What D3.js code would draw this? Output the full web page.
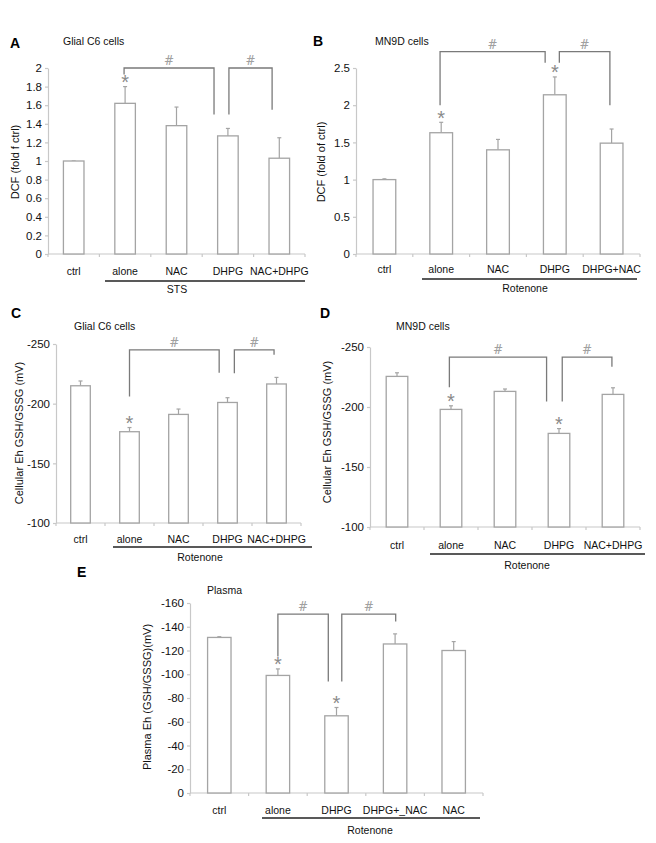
<!DOCTYPE html>
<html><head><meta charset="utf-8">
<script src="https://cdn.jsdelivr.net/npm/d3@7"></script>
<style>body{margin:0;background:#fff} svg{display:block}</style>
</head><body><svg id="c" width="656" height="843"></svg>
<script>
// ---------- Panel A ----------
const catsA = ["ctrl","alone","NAC","DHPG","NAC+DHPG"];
const valsA = [1.00,1.62,1.38,1.27,1.03];
const errA  = [0.00,0.18,0.20,0.08,0.22];
const sigA  = ["","*","","",""];
const ticksA = [0,0.2,0.4,0.6,0.8,1,1.2,1.4,1.6,1.8,2];
const bracketsA = [
  {from:"alone", to:"DHPG", top:2.0, fromEnd:1.93, toEnd:1.50},
  {from:"DHPG", to:"NAC+DHPG", top:2.0, fromEnd:1.50, toEnd:1.55}
];
// ---------- Panel B ----------
const catsB = ["ctrl","alone","NAC","DHPG","DHPG+NAC"];
const valsB = [1.00,1.63,1.40,2.14,1.49];
const errB  = [0.01,0.14,0.14,0.24,0.19];
const sigB  = ["","*","","*",""];
const ticksB = [0,0.5,1,1.5,2,2.5];
const bracketsB = [
  {from:"alone", to:"DHPG", top:2.72, fromEnd:2.0, toEnd:2.57},
  {from:"DHPG", to:"DHPG+NAC", top:2.72, fromEnd:2.57, toEnd:2.0}
];
// ---------- Panel C ----------
const catsC = ["ctrl","alone","NAC","DHPG","NAC+DHPG"];
const valsC = [-215,-176.5,-191,-201,-216.5];
const errC  = [4,3.5,4.5,4,5.5];
const sigC  = ["","*","","",""];
const ticksC = [-250,-200,-150,-100];
const bracketsC = [
  {from:"alone", to:"DHPG", top:-245, fromEnd:-206, toEnd:-226},
  {from:"DHPG", to:"NAC+DHPG", top:-245, fromEnd:-225.5, toEnd:-241}
];
// ---------- Panel D ----------
const catsD = ["ctrl","alone","NAC","DHPG","NAC+DHPG"];
const valsD = [-225.5,-198,-213,-178,-210.5];
const errD  = [3,3,2,4,5.5];
const sigD  = ["","*","","*",""];
const ticksD = [-250,-200,-150,-100];
const bracketsD = [
  {from:"alone", to:"DHPG", top:-241.5, fromEnd:-216.5, toEnd:-204.5},
  {from:"DHPG", to:"NAC+DHPG", top:-241.5, fromEnd:-204.5, toEnd:-233.5}
];
// ---------- Panel E ----------
const catsE = ["ctrl","alone","DHPG","DHPG+_NAC","NAC"];
const valsE = [-131,-99,-65,-125.5,-120];
const errE  = [0.6,5.5,7,8.5,7.5];
const sigE  = ["","*","*","",""];
const ticksE = [0,-20,-40,-60,-80,-100,-120,-140,-160];
const bracketsE = [
  {from:"alone", to:"DHPG", top:-150.7, fromEnd:-115, toEnd:-94},
  {from:"DHPG", to:"DHPG+_NAC", top:-150.7, fromEnd:-94, toEnd:-144.5}
];

const FONT = '"Liberation Sans", Arial, Helvetica, sans-serif';
const svg = d3.select("#c");
svg.append("rect").attr("width",656).attr("height",843).attr("fill","#fff");

const panels = [
  {cats:catsA, vals:valsA, errs:errA, sigs:sigA, ticks:ticksA, brackets:bracketsA,
   domain:[0,2], x0:48, x1:305, yBase:254, yTop:68,
   letter:"A", letterX:10, letterY:48, title:"Glial C6 cells", titleX:63, titleY:45,
   ylabel:"DCF (fold f ctrl)", ylabX:15, ylabY:162,
   labelY:275, lineY:281, lineX0:105, lineX1:305, group:"STS", groupX:177, groupY:293,
   offs:[[-0.02,-0.27],[0.02,-0.14]]},
  {cats:catsB, vals:valsB, errs:errB, sigs:sigB, ticks:ticksB, brackets:bracketsB,
   domain:[0,2.5], x0:356, x1:640, yBase:254, yTop:68,
   letter:"B", letterX:313, letterY:46, title:"MN9D cells", titleX:375, titleY:45,
   ylabel:"DCF (fold of ctrl)", ylabX:321, ylabY:162,
   labelY:273, lineY:279, lineX0:422, lineX1:637, group:"Rotenone", groupX:525, groupY:292,
   offs:[[-0.02,-0.17],[0.08,-0.03]]},
  {cats:catsC, vals:valsC, errs:errC, sigs:sigC, ticks:ticksC, brackets:bracketsC,
   domain:[-100,-250], x0:56, x1:301, yBase:523, yTop:344,
   letter:"C", letterX:11, letterY:318, title:"Glial C6 cells", titleX:74, titleY:330,
   ylabel:"Cellular Eh GSH/GSSG (mV)", ylabX:19, ylabY:433,
   labelY:543, lineY:547, lineX0:113, lineX1:312, group:"Rotenone", groupX:200, groupY:561,
   offs:[[0,-0.17],[0.14,-0.05]]},
  {cats:catsD, vals:valsD, errs:errD, sigs:sigD, ticks:ticksD, brackets:bracketsD,
   domain:[-100,-250], x0:370, x1:640, yBase:527, yTop:347,
   letter:"D", letterX:320, letterY:318, title:"MN9D cells", titleX:396, titleY:330,
   ylabel:"Cellular Eh GSH/GSSG (mV)", ylabX:327, ylabY:432,
   labelY:549, lineY:554, lineX0:430, lineX1:645, group:"Rotenone", groupX:527, groupY:569,
   offs:[[-0.03,-0.23],[0.06,-0.02]]},
  {cats:catsE, vals:valsE, errs:errE, sigs:sigE, ticks:ticksE, brackets:bracketsE,
   domain:[0,-160], x0:190, x1:483, yBase:793, yTop:603,
   letter:"E", letterX:77, letterY:577, title:"Plasma", titleX:207, titleY:594,
   ylabel:"Plasma Eh (GSH/GSSG)(mV)", ylabX:147, ylabY:697,
   labelY:814, lineY:818, lineX0:262, lineX1:480, group:"Rotenone", groupX:370, groupY:834,
   offs:[[0,-0.14],[0.09,0.01]]}
];

const AX = "#c8c8c8", BAR = "#a4a4a4", BR = "#7a7a7a";

function drawPanel(cfg){
  const g = svg.append("g");
  const x = d3.scaleBand().domain(cfg.cats).range([cfg.x0,cfg.x1]).paddingInner(0.6).paddingOuter(0.3);
  const y = d3.scaleLinear().domain(cfg.domain).range([cfg.yBase,cfg.yTop]);
  const dir = Math.sign(cfg.domain[1]-cfg.domain[0]);
  const cx = c => x(c) + x.bandwidth()/2;

  // y axis
  const ya = g.append("g").attr("transform",`translate(${cfg.x0},0)`)
    .call(d3.axisLeft(y).tickValues(cfg.ticks).tickSize(3).tickSizeOuter(0).tickPadding(3)
      .tickFormat(d => String(+d.toFixed(2))));
  ya.attr("font-family",FONT).attr("font-size",11.5);
  ya.select(".domain").attr("stroke",AX).attr("stroke-width",1.2);
  ya.selectAll(".tick line").attr("stroke",AX).attr("stroke-width",1.2);
  ya.selectAll(".tick text").attr("fill","#111");

  // x axis line and boundary ticks
  g.append("line").attr("x1",cfg.x0).attr("x2",cfg.x1).attr("y1",cfg.yBase).attr("y2",cfg.yBase)
    .attr("stroke",AX).attr("stroke-width",1.2);
  g.selectAll(".xt").data(d3.range(cfg.cats.length+1)).join("line")
    .attr("x1",i=>cfg.x0+i*x.step()).attr("x2",i=>cfg.x0+i*x.step())
    .attr("y1",cfg.yBase).attr("y2",cfg.yBase+3).attr("stroke",AX).attr("stroke-width",1.2);

  const data = cfg.cats.map((c,i)=>({c, v:cfg.vals[i], e:cfg.errs[i], s:cfg.sigs[i]}));

  // error bars
  data.forEach(d=>{
    const top = d.v + dir*d.e;
    g.append("line").attr("x1",cx(d.c)).attr("x2",cx(d.c)).attr("y1",y(d.v)).attr("y2",y(top))
      .attr("stroke",BAR).attr("stroke-width",1.2);
    g.append("line").attr("x1",cx(d.c)-2).attr("x2",cx(d.c)+2).attr("y1",y(top)).attr("y2",y(top))
      .attr("stroke",BAR).attr("stroke-width",1.2);
  });

  // bars
  g.selectAll(".bar").data(data).join("rect")
    .attr("x",d=>x(d.c)).attr("width",x.bandwidth())
    .attr("y",d=>y(d.v)).attr("height",d=>y(cfg.domain[0])-y(d.v))
    .attr("fill","#fff").attr("stroke",BAR).attr("stroke-width",1.3);

  // significance asterisks (glyph centre about 9px above the error cap)
  data.filter(d=>d.s).forEach(d=>{
    const top = d.v + dir*d.e;
    g.append("text").attr("x",cx(d.c)).attr("y",y(top)-9+11.5)
      .attr("text-anchor","middle").attr("font-family",FONT).attr("font-size",20)
      .attr("fill","#8a8a8a").text(d.s);
  });

  // brackets
  cfg.brackets.forEach((b,i)=>{
    const xa = cx(b.from) + cfg.offs[i][0]*x.step();
    const xb = cx(b.to) + cfg.offs[i][1]*x.step();
    g.append("path")
      .attr("d",`M${xa},${y(b.fromEnd)}V${y(b.top)}H${xb}V${y(b.toEnd)}`)
      .attr("fill","none").attr("stroke",BR).attr("stroke-width",1.3);
    g.append("text").attr("x",(xa+xb)/2).attr("y",y(b.top)-3)
      .attr("text-anchor","middle").attr("font-family","DejaVu Serif, serif").attr("font-size",12)
      .attr("fill","#a0a0a0").text("#");
  });

  // category labels
  g.selectAll(".cl").data(cfg.cats).join("text")
    .attr("x",c=>cx(c)).attr("y",cfg.labelY).attr("text-anchor","middle")
    .attr("font-family",FONT).attr("font-size",10.5).attr("fill","#111").text(c=>c);

  // group underline + label
  g.append("line").attr("x1",cfg.lineX0).attr("x2",cfg.lineX1).attr("y1",cfg.lineY).attr("y2",cfg.lineY)
    .attr("stroke","#222").attr("stroke-width",1.5);
  g.append("text").attr("x",cfg.groupX).attr("y",cfg.groupY).attr("text-anchor","middle")
    .attr("font-family",FONT).attr("font-size",10.5).attr("fill","#111").text(cfg.group);

  // letter, title, y label
  g.append("text").attr("x",cfg.letterX).attr("y",cfg.letterY).attr("font-family",FONT)
    .attr("font-weight","bold").attr("font-size",14).attr("fill","#000").text(cfg.letter);
  g.append("text").attr("x",cfg.titleX).attr("y",cfg.titleY).attr("font-family",FONT)
    .attr("font-size",10.5).attr("fill","#111").text(cfg.title);
  g.append("text").attr("transform",`translate(${cfg.ylabX},${cfg.ylabY}) rotate(-90)`)
    .attr("text-anchor","middle").attr("dy","0.35em").attr("font-family",FONT)
    .attr("font-size",11).attr("fill","#111").text(cfg.ylabel);
}

panels.forEach(drawPanel);
</script>
</body></html>
